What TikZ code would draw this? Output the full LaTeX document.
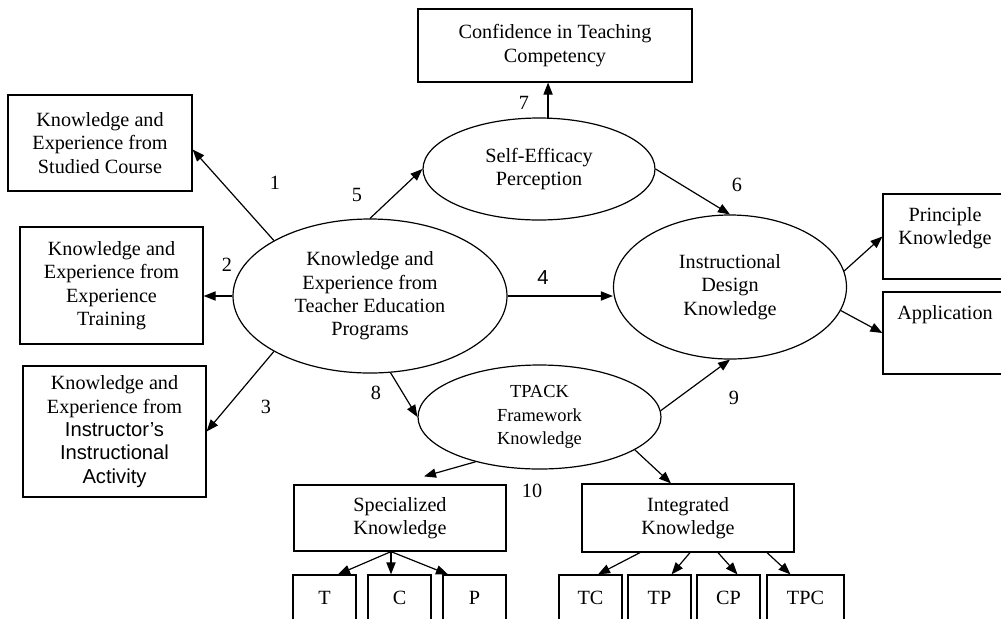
\documentclass[tikz,border=0pt]{standalone}
\usepackage{fontspec}
\setmainfont{Liberation Serif}
\newfontfamily\arialfont{Liberation Sans}
\usetikzlibrary{arrows.meta,shapes.geometric}

\begin{document}
\begin{tikzpicture}[x=0.5pt,y=-0.5pt,
      box/.style={
        rectangle,
        draw,
        align=center,
        inner sep=0pt,
        font=\fontsize{10.1}{11.7}\selectfont
      },
      oval/.style={
        ellipse,
        draw,
        align=center,
        inner sep=0pt,
        font=\fontsize{10.1}{11.7}\selectfont
      },
      num/.style={font=\fontsize{10.1}{11.7}\selectfont},
      line width=0.6pt,
      >={Triangle[length=6pt,width=4.6pt]}
    ]
    \useasboundingbox (0,0) rectangle (1001,618);
    % left column
    \node[box,minimum width=92pt,minimum height=48pt] (studied) at (100,143) {Knowledge and\\Experience from\\Studied Course};
    \node[box,minimum width=91.5pt,minimum height=58.5pt] (training) at (111.5,285.5) {Knowledge and\\Experience from\\Experience\\Training};
    \node[box,minimum width=91.5pt,minimum height=65.5pt] (instr) at (114.5,431.5) {Knowledge and\\Experience from\\{\arialfont Instructor’s}\\{\arialfont Instructional}\\{\arialfont Activity}};
    % middle
    \node[oval,minimum width=137pt,minimum height=77pt] (edu) at (370,296) {Knowledge and\\Experience from\\Teacher Education\\Programs};
    \node[box,minimum width=137pt,minimum height=36.5pt] (conf) at (555,45.5) {Confidence in Teaching\\Competency};
    \node[oval,minimum width=116pt,minimum height=51pt] (selfeff) at (539,169) {Self-Efficacy\\Perception};
    \node[oval,minimum width=121.5pt,minimum height=52pt,font=\fontsize{9.2}{11.7}\selectfont] (tpack) at (539.5,417) {TPACK\\Framework\\Knowledge};
    % right
    \node[oval,minimum width=116.5pt,minimum height=72pt] (design) at (730,287) {Instructional\\Design\\Knowledge};
    \node[box,minimum width=62pt,minimum height=42.5pt] (principle) at (945,236.5) {\parbox[c][29pt][t]{60pt}{\centering Principle\\Knowledge}};
    \node[box,minimum width=62pt,minimum height=41pt] (application) at (945,333) {\parbox[c][28pt][t]{60pt}{\centering Application}};
    % bottom
    \node[box,minimum width=106pt,minimum height=33pt] (spec) at (400,518) {Specialized\\Knowledge};
    \node[box,minimum width=106pt,minimum height=34pt] (integ) at (688,518) {Integrated\\Knowledge};
    \node[box,minimum width=31.5pt,minimum height=23pt] (T) at (324.5,598) {T};
    \node[box,minimum width=31.5pt,minimum height=23pt] (C) at (399.5,598) {C};
    \node[box,minimum width=31.5pt,minimum height=23pt] (P) at (474.5,598) {P};
    \node[box,minimum width=31.5pt,minimum height=23pt] (TC) at (590.5,598) {TC};
    \node[box,minimum width=31.5pt,minimum height=23pt] (TP) at (659.5,598) {TP};
    \node[box,minimum width=31.5pt,minimum height=23pt] (CP) at (728.5,598) {CP};
    \node[box,minimum width=38.5pt,minimum height=23pt] (TPC) at (805.5,598) {TPC};
    % path numbers
    \node[num] (n1) at (275,183) {1};
    \node[num] (n2) at (227,265) {2};
    \node[num] (n3) at (266,407) {3};
    \node[num] (n4) at (543,278) {\arialfont 4};
    \node[num] (n5) at (357,195) {5};
    \node[num] (n6) at (737,185) {6};
    \node[num] (n7) at (524,103) {7};
    \node[num] (n8) at (376,393) {8};
    \node[num] (n9) at (734,398) {9};
    \node[num] (n10) at (532,491) {10};
    % connectors
    \draw[->] (edu.150) -- (studied.-4);
    \draw[->] (edu.west) -- (edu.west -| training.east);
    \draw[->] (edu.-150) -- (instr.east);
    \draw[->] (edu.east) -- (edu.east -| design.west);
    \draw[->] (edu.north) -- (selfeff.west);
    \draw[->] (selfeff.east) -- (design.north);
    \draw[->] (selfeff.80) -- (selfeff.80 |- conf.south);
    \draw[->] (edu.-75) -- (tpack.west);
    \draw[->] (tpack.3) -- (design.south);
    \draw[->] (tpack.-145) -- ([shift={(12pt,4pt)}]spec.north);
    \draw[->] (tpack.-19) -- ([xshift=-8.5pt]integ.north);
    \draw[->] (design.8) -- (principle.west);
    \draw[->] (design.-12) -- (application.west);
    \draw[->] ([xshift=-4.5pt]spec.south) -- ([xshift=6.75pt]T.north);
    \draw[->] ([xshift=-4.5pt]spec.south) -- ([xshift=-4.25pt]C.north);
    \draw[->] ([xshift=-4.5pt]spec.south) -- ([xshift=-13.25pt]P.north);
    \draw[->] ([xshift=-24pt]integ.south) -- ([xshift=3.75pt]TC.north);
    \draw[->] ([xshift=1pt]integ.south) -- ([xshift=6pt]TP.north);
    \draw[->] ([xshift=15pt]integ.south) -- ([xshift=4.5pt]CP.north);
    \draw[->] ([xshift=39.5pt]integ.south) -- ([xshift=-7.5pt]TPC.north);
\end{tikzpicture}
\end{document}
